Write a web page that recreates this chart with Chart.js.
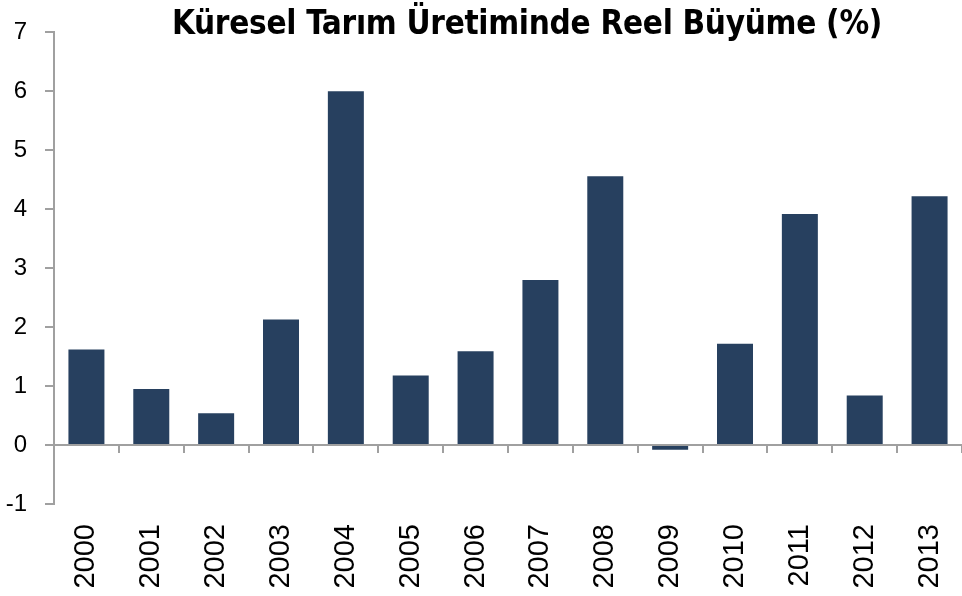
<!DOCTYPE html>
<html>
<head>
<meta charset="utf-8">
<script src="https://cdn.jsdelivr.net/npm/chart.js@4/dist/chart.umd.min.js"></script>
<style>
  html, body { margin: 0; padding: 0; background: #fff; }
  #wrap { position: relative; width: 962px; height: 596px; }
  #title { position: absolute; left: 0; width: 1054px; top: 3px; text-align: center;
           font-family: "DejaVu Sans Condensed", "Liberation Sans Narrow", sans-serif;
           font-weight: bold; font-size: 33px; color: #000; white-space: nowrap; letter-spacing: -0.3px; }
</style>
</head>
<body>
<div id="wrap">
  <canvas id="c" width="962" height="596"></canvas>
  <div id="title">Küresel Tarım Üretiminde Reel Büyüme (%)</div>
</div>
<script>
const categories = ["2000","2001","2002","2003","2004","2005","2006","2007","2008","2009","2010","2011","2012","2013"];
const growth = [1.62, 0.95, 0.54, 2.13, 6.0, 1.18, 1.59, 2.8, 4.56, -0.08, 1.72, 3.92, 0.84, 4.22];
const yTicks = [-1, 0, 1, 2, 3, 4, 5, 6, 7];

const axisColor = '#a0a0a0';
new Chart(document.getElementById('c'), {
  type: 'bar',
  data: {
    labels: categories,
    datasets: [{ data: growth, backgroundColor: '#27405f', borderWidth: 0,
                 barPercentage: 0.555, categoryPercentage: 1.0 }]
  },
  options: {
    responsive: false,
    animation: false,
    layout: { padding: { top: 30, bottom: 92, left: 0, right: 0 } },
    plugins: { legend: { display: false }, tooltip: { enabled: false }, title: { display: false } },
    scales: {
      x: {
        position: { y: 0 },
        afterFit: (s) => { s.paddingLeft = 0; s.paddingRight = 0; },
        grid: { display: true, drawOnChartArea: false, drawTicks: true, tickLength: 7, color: axisColor, lineWidth: 2, offset: true },
        border: { display: true, color: axisColor, width: 2 },
        ticks: { maxRotation: 90, minRotation: 90, padding: 72, color: '#000',
                 font: { family: 'Liberation Sans', size: 29 } }
      },
      y: {
        min: -1, max: 7,
        afterBuildTicks: (s) => { s.ticks = yTicks.map(v => ({ value: v })); },
        afterFit: (s) => { s.width = 54; },
        grid: { display: true, drawOnChartArea: false, drawTicks: true, tickLength: 9, color: axisColor, lineWidth: 2 },
        border: { display: true, color: axisColor, width: 2 },
        ticks: { padding: 18, color: '#000', font: { family: 'Liberation Sans', size: 24 } }
      }
    }
  }
});
</script>
</body>
</html>
